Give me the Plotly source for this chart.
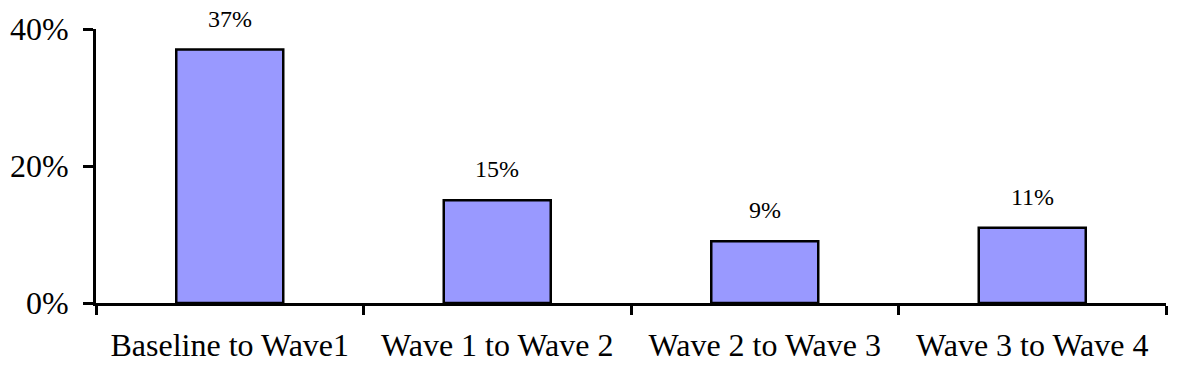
import plotly.graph_objects as go

categories = ["Baseline to Wave1", "Wave 1 to Wave 2", "Wave 2 to Wave 3", "Wave 3 to Wave 4"]
values = [37, 15, 9, 11]
value_labels = ["37%", "15%", "9%", "11%"]
y_ticks = [0, 20, 40]
y_tick_labels = ["0%", "20%", "40%"]

FONT = '"Liberation Serif", "Times New Roman", Times, serif'

fig = go.Figure()
fig.add_trace(go.Bar(
    x=categories, y=values,
    marker=dict(color="#9999FF", line=dict(color="black", width=2.5)),
    width=0.4,
    hoverinfo="skip",
))

for c, v, t in zip(categories, values, value_labels):
    fig.add_annotation(x=c, y=v, text=t, showarrow=False, yanchor="bottom",
                       yshift=16, font=dict(family=FONT, size=24, color="black"))

fig.update_layout(
    width=1178, height=371,
    margin=dict(l=96, r=12, t=29, b=68),
    paper_bgcolor="white", plot_bgcolor="white",
    showlegend=False,
    font=dict(family=FONT, color="black"),
)
fig.update_xaxes(
    type="category", automargin=False,
    showline=True, linecolor="black", linewidth=3,
    ticks="outside", ticklen=9, tickwidth=3, tickcolor="black",
    tickson="boundaries",
    tickfont=dict(family=FONT, size=32, color="black"),
    ticklabelstandoff=12,
    showgrid=False, zeroline=False,
)
fig.update_yaxes(
    range=[0, 40], automargin=False,
    tickvals=y_ticks, ticktext=y_tick_labels,
    showline=True, linecolor="black", linewidth=3,
    ticks="outside", ticklen=10, tickwidth=3, tickcolor="black",
    tickfont=dict(family=FONT, size=32, color="black"),
    ticklabelstandoff=8,
    showgrid=False, zeroline=False,
)

# remove the default 8px page margin so the figure fills the window exactly
fig.write_html("out.html", config={"displayModeBar": False},
               post_script="document.body.style.margin='0';")
